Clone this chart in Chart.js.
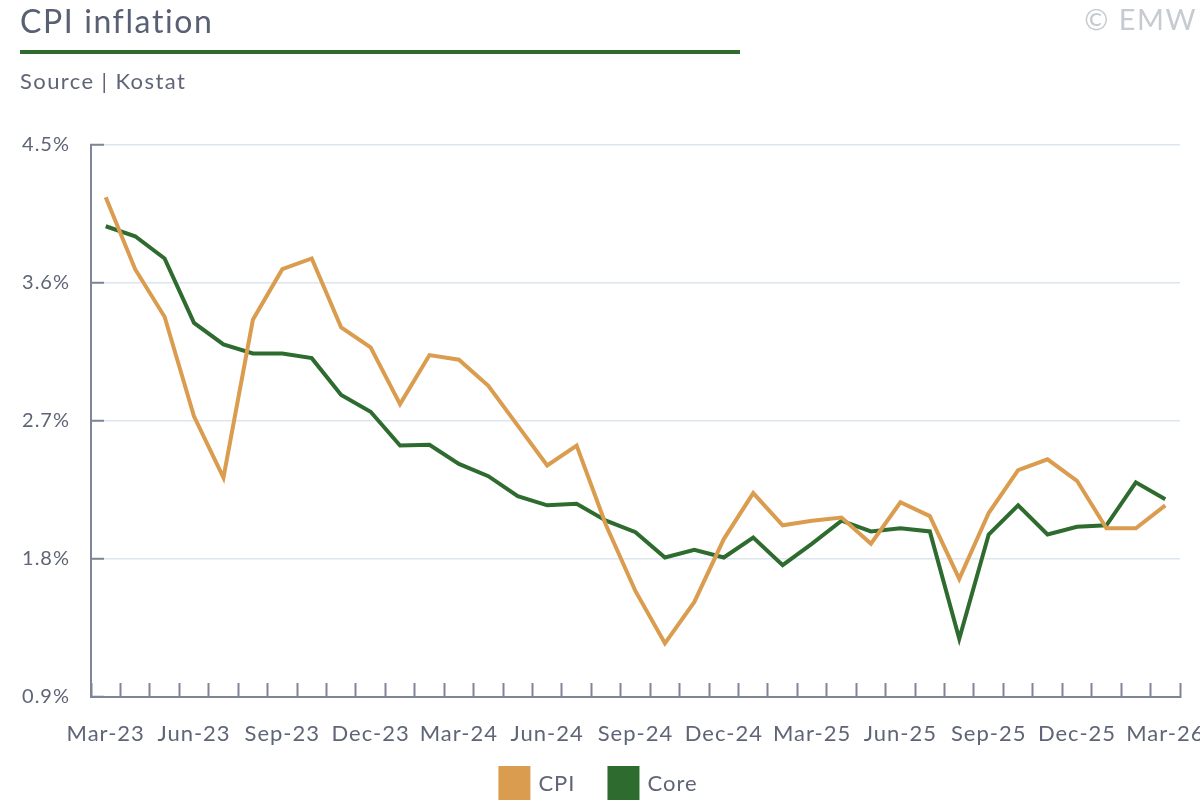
<!DOCTYPE html>
<html>
<head>
<meta charset="utf-8">
<script src="https://cdn.jsdelivr.net/npm/chart.js@4"></script>
<style>
html,body{margin:0;padding:0;background:#fff;width:1200px;height:800px;overflow:hidden;font-family:Lato,"Open Sans",sans-serif;}
#title{position:absolute;left:20px;top:5px;font-size:32px;line-height:32px;color:#5a6073;white-space:nowrap;letter-spacing:1.6px;}
#rule{position:absolute;left:20px;top:50px;width:720px;height:4px;background:#2e6b2f;}
#source{position:absolute;left:20px;top:70px;font-size:22px;line-height:22px;color:#5f6577;white-space:nowrap;letter-spacing:1.4px;}
#copy{position:absolute;right:3px;top:4px;font-size:29px;line-height:29px;color:#c6cad1;white-space:nowrap;letter-spacing:1.5px;}
canvas{position:absolute;left:0;top:0;}
</style>
</head>
<body>
<canvas id="c" width="1200" height="800"></canvas>
<div id="title">CPI inflation</div>
<div id="rule"></div>
<div id="source">Source | Kostat</div>
<div id="copy">© EMW</div>
<script>
const months = ["Mar-23","Apr-23","May-23","Jun-23","Jul-23","Aug-23","Sep-23","Oct-23","Nov-23","Dec-23",
  "Jan-24","Feb-24","Mar-24","Apr-24","May-24","Jun-24","Jul-24","Aug-24","Sep-24","Oct-24","Nov-24","Dec-24",
  "Jan-25","Feb-25","Mar-25","Apr-25","May-25","Jun-25","Jul-25","Aug-25","Sep-25","Oct-25","Nov-25","Dec-25",
  "Jan-26","Feb-26","Mar-26"];
const cpi = [4.16,3.69,3.38,2.73,2.33,3.36,3.69,3.76,3.31,3.18,2.81,3.13,3.10,2.93,2.67,2.41,2.54,2.02,1.59,1.25,1.52,1.93,2.23,2.02,2.05,2.07,1.90,2.17,2.08,1.67,2.10,2.38,2.45,2.31,2.00,2.00,2.15];
const core = [3.97,3.905,3.76,3.34,3.20,3.14,3.14,3.11,2.87,2.76,2.54,2.545,2.42,2.34,2.21,2.15,2.16,2.05,1.975,1.81,1.86,1.81,1.94,1.76,1.90,2.05,1.98,2.00,1.98,1.28,1.96,2.15,1.96,2.01,2.02,2.30,2.19];
const yTicks = [0.9,1.8,2.7,3.6,4.5];

const TEXT = '#5f6577';
const AXIS = '#7d8596';
const FONT = 'Lato';
Chart.defaults.font.family = FONT;

const spacingPlugin = {
  id: 'letterSpacing',
  beforeDraw(chart) { chart.ctx.letterSpacing = '1px'; }
};

const legendPlugin = {
  id: 'customLegend',
  afterDraw(chart) {
    const ctx = chart.ctx;
    ctx.save();
    ctx.font = '22px ' + FONT;
    ctx.letterSpacing = '1px';
    const boxW = 32, boxH = 34, gapT = 8, gapI = 32;
    const items = chart.data.datasets.map(d => ({text: d.label, color: d.borderColor, w: ctx.measureText(d.label).width}));
    const total = items.reduce((s, it) => s + boxW + gapT + it.w, 0) + gapI * (items.length - 1);
    let x = chart.width / 2 - total / 2 - 2;
    const y = chart.height - boxH;
    ctx.textBaseline = 'middle';
    ctx.textAlign = 'left';
    items.forEach(it => {
      ctx.fillStyle = it.color;
      ctx.fillRect(x, y, boxW, boxH);
      ctx.fillStyle = TEXT;
      ctx.fillText(it.text, x + boxW + gapT, y + boxH / 2 + 1);
      x += boxW + gapT + it.w + gapI;
    });
    ctx.restore();
  }
};

new Chart(document.getElementById('c'), {
  type: 'line',
  data: {
    labels: months,
    datasets: [
      {label: 'CPI', data: cpi, borderColor: '#da9c4f', backgroundColor: '#da9c4f', borderWidth: 4, pointRadius: 0, tension: 0},
      {label: 'Core', data: core, borderColor: '#2e6b2f', backgroundColor: '#2e6b2f', borderWidth: 4, pointRadius: 0, tension: 0}
    ]
  },
  plugins: [spacingPlugin, legendPlugin],
  options: {
    responsive: false,
    animation: false,
    devicePixelRatio: 1,
    layout: {padding: {top: 145, right: 20, left: 0, bottom: 0}},
    plugins: {legend: {display: false}, tooltip: {enabled: false}},
    scales: {
      x: {
        offset: true,
        grid: {offset: true, drawOnChartArea: false, tickLength: -14, tickColor: AXIS, tickWidth: 2},
        border: {color: AXIS, width: 2},
        ticks: {
          autoSkip: false, maxRotation: 0, minRotation: 0, padding: 38,
          color: TEXT, font: {size: 22, family: FONT},
          callback: (v, i) => (i % 3 === 0 ? months[i] : '')
        },
        afterFit(s) { s.height = 103; s.paddingLeft = 0; s.paddingRight = 0; }
      },
      y: {
        min: 0.9, max: 4.5,
        afterBuildTicks(s) { s.ticks = yTicks.map(v => ({value: v})); },
        grid: {color: '#dce5f0', lineWidth: 1.5, tickLength: -13, tickColor: AXIS, tickWidth: 2},
        border: {color: AXIS, width: 2},
        ticks: {padding: 34, color: TEXT, font: {size: 20, family: FONT}, callback: v => v.toFixed(1) + '%'},
        afterFit(s) { s.width = 91; s.paddingTop = 0; s.paddingBottom = 0; }
      }
    }
  }
});
</script>
</body>
</html>
